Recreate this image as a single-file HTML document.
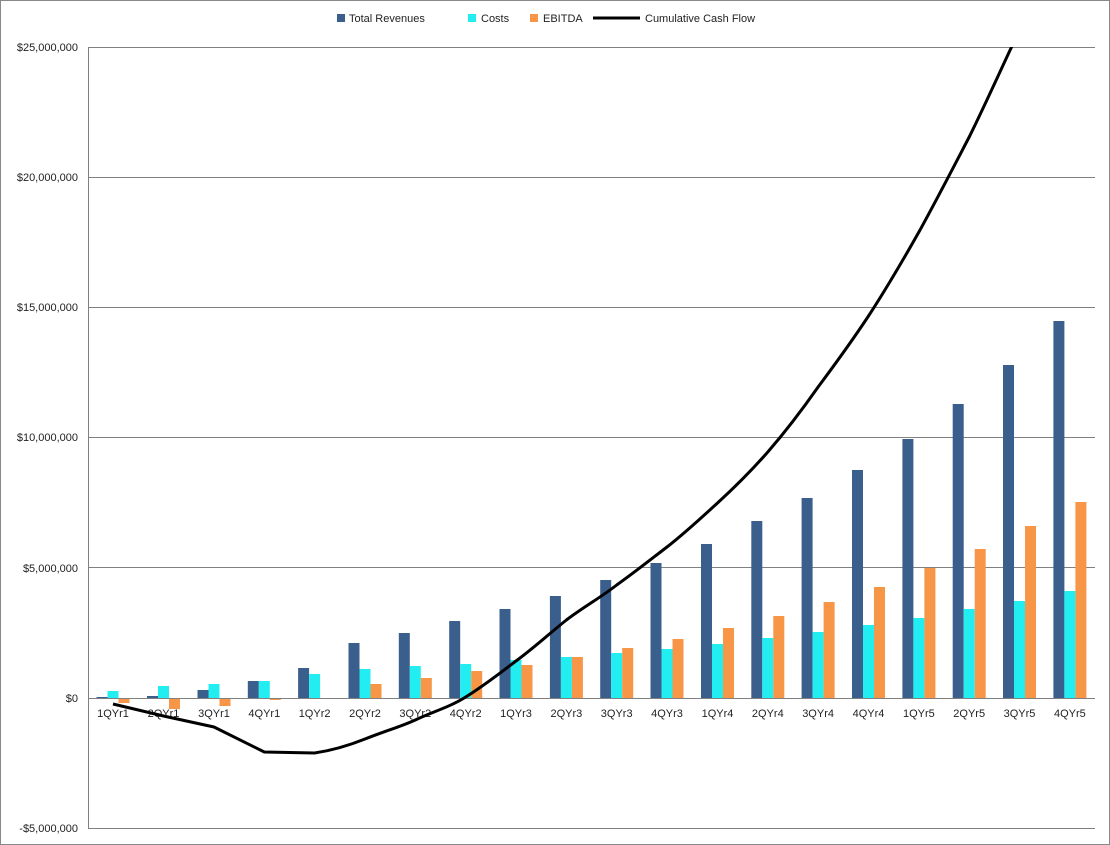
<!DOCTYPE html>
<html><head><meta charset="utf-8"><style>
html,body{margin:0;padding:0;background:#fff;}
svg{display:block;font-family:"Liberation Sans",sans-serif;}
</style></head><body>
<svg width="1110" height="845" viewBox="0 0 1110 845">
<rect x="0.5" y="0.5" width="1109" height="844" fill="#fff" stroke="#888"/>
<g stroke="#808080" stroke-width="1">
<line x1="88" y1="47.5" x2="1095" y2="47.5"/>
<line x1="88" y1="177.5" x2="1095" y2="177.5"/>
<line x1="88" y1="307.5" x2="1095" y2="307.5"/>
<line x1="88" y1="437.5" x2="1095" y2="437.5"/>
<line x1="88" y1="567.5" x2="1095" y2="567.5"/>
<line x1="88" y1="828.5" x2="1095" y2="828.5"/>
<line x1="88.5" y1="47" x2="88.5" y2="828"/>
</g>
<g font-size="11" fill="#222" text-anchor="end">
<text x="78" y="51">$25,000,000</text>
<text x="78" y="181">$20,000,000</text>
<text x="78" y="311">$15,000,000</text>
<text x="78" y="441">$10,000,000</text>
<text x="78" y="572">$5,000,000</text>
<text x="78" y="702">$0</text>
<text x="78" y="832">-$5,000,000</text>
</g>
<!-- Revenues -->
<g fill="#3b5f8c">
<rect x="96.5" y="697" width="11" height="1"/>
<rect x="147" y="696" width="11" height="2"/>
<rect x="197.5" y="690" width="11" height="8"/>
<rect x="247.8" y="681" width="11" height="17"/>
<rect x="298.1" y="668" width="11" height="30"/>
<rect x="348.5" y="643" width="11" height="55"/>
<rect x="398.8" y="633" width="11" height="65"/>
<rect x="449.2" y="621" width="11" height="77"/>
<rect x="499.5" y="609" width="11" height="89"/>
<rect x="549.9" y="596" width="11" height="102"/>
<rect x="600.2" y="580" width="11" height="118"/>
<rect x="650.5" y="563" width="11" height="135"/>
<rect x="701" y="544" width="11" height="154"/>
<rect x="751.3" y="521" width="11" height="177"/>
<rect x="801.6" y="498" width="11" height="200"/>
<rect x="852" y="470" width="11" height="228"/>
<rect x="902.4" y="439" width="11" height="259"/>
<rect x="952.7" y="404" width="11" height="294"/>
<rect x="1003" y="365" width="11" height="333"/>
<rect x="1053.4" y="321" width="11" height="377"/>
</g>
<!-- Costs -->
<g fill="#22eef2">
<rect x="107.5" y="691" width="11" height="7"/>
<rect x="158" y="686" width="11" height="12"/>
<rect x="208.5" y="684" width="11" height="14"/>
<rect x="258.8" y="681" width="11" height="17"/>
<rect x="309.1" y="674" width="11" height="24"/>
<rect x="359.5" y="669" width="11" height="29"/>
<rect x="409.8" y="666" width="11" height="32"/>
<rect x="460.2" y="664" width="11" height="34"/>
<rect x="510.5" y="660" width="11" height="38"/>
<rect x="560.9" y="657" width="11" height="41"/>
<rect x="611.2" y="653" width="11" height="45"/>
<rect x="661.5" y="649" width="11" height="49"/>
<rect x="712" y="644" width="11" height="54"/>
<rect x="762.3" y="638" width="11" height="60"/>
<rect x="812.6" y="632" width="11" height="66"/>
<rect x="863" y="625" width="11" height="73"/>
<rect x="913.4" y="618" width="11" height="80"/>
<rect x="963.7" y="609" width="11" height="89"/>
<rect x="1014" y="601" width="11" height="97"/>
<rect x="1064.4" y="591" width="11" height="107"/>
</g>
<!-- EBITDA -->
<g fill="#f79646">
<rect x="118.5" y="698" width="11" height="5"/>
<rect x="169" y="698" width="11" height="11"/>
<rect x="219.5" y="698" width="11" height="8"/>
<rect x="269.8" y="698" width="11" height="2"/>
<rect x="370.5" y="684" width="11" height="14"/>
<rect x="420.8" y="678" width="11" height="20"/>
<rect x="471.2" y="671" width="11" height="27"/>
<rect x="521.5" y="665" width="11" height="33"/>
<rect x="571.9" y="657" width="11" height="41"/>
<rect x="622.2" y="648" width="11" height="50"/>
<rect x="672.5" y="639" width="11" height="59"/>
<rect x="723" y="628" width="11" height="70"/>
<rect x="773.3" y="616" width="11" height="82"/>
<rect x="823.6" y="602" width="11" height="96"/>
<rect x="874" y="587" width="11" height="111"/>
<rect x="924.4" y="568" width="11" height="130"/>
<rect x="974.7" y="549" width="11" height="149"/>
<rect x="1025" y="526" width="11" height="172"/>
<rect x="1075.4" y="502" width="11" height="196"/>
</g>
<line x1="88" y1="698.5" x2="1095" y2="698.5" stroke="#808080"/>
<g font-size="11" fill="#222" text-anchor="middle">
<text x="113" y="717">1QYr1</text><text x="163.5" y="717">2QYr1</text><text x="214" y="717">3QYr1</text><text x="264.3" y="717">4QYr1</text>
<text x="314.6" y="717">1QYr2</text><text x="365" y="717">2QYr2</text><text x="415.3" y="717">3QYr2</text><text x="465.7" y="717">4QYr2</text>
<text x="516" y="717">1QYr3</text><text x="566.4" y="717">2QYr3</text><text x="616.7" y="717">3QYr3</text><text x="667" y="717">4QYr3</text>
<text x="717.5" y="717">1QYr4</text><text x="767.8" y="717">2QYr4</text><text x="818.1" y="717">3QYr4</text><text x="868.5" y="717">4QYr4</text>
<text x="918.9" y="717">1QYr5</text><text x="969.2" y="717">2QYr5</text><text x="1019.5" y="717">3QYr5</text><text x="1069.9" y="717">4QYr5</text>
</g>
<defs><clipPath id="c"><rect x="88" y="47" width="1007" height="781"/></clipPath></defs>
<path clip-path="url(#c)" fill="none" stroke="#000" stroke-width="3" stroke-linejoin="round"
d="M113,704 L163.5,716 L214,727 L264.3,752 L314.6,753 C335,750 350,745 365,739 C385,731 400,727 415.3,720 C432,712 450,707 465.7,697 C485,685 500,673 516,661 C535,647 550,633 566.4,620 C585,606 600,598 616.7,585 C635,572 650,560 667,547 C685,533 700,519 717.5,503 C735,487 752,470 767.8,452 C786,431 802,410 818.1,387 C836,363 852,341 868.5,316 C886,289 902,262 918.9,232 C936,201 952,170 969.2,137 C986,103 1002,67 1019.5,30"/>
<!-- legend -->
<g font-size="11" fill="#222">
<rect x="337" y="14" width="8" height="8" fill="#3b5f8c"/><text x="349" y="22">Total Revenues</text>
<rect x="468" y="14" width="8" height="8" fill="#22eef2"/><text x="481" y="22">Costs</text>
<rect x="530" y="14" width="8" height="8" fill="#f79646"/><text x="543" y="22">EBITDA</text>
<line x1="593" y1="18" x2="640" y2="18" stroke="#000" stroke-width="3"/><text x="645" y="22">Cumulative Cash Flow</text>
</g>
</svg>
</body></html>
